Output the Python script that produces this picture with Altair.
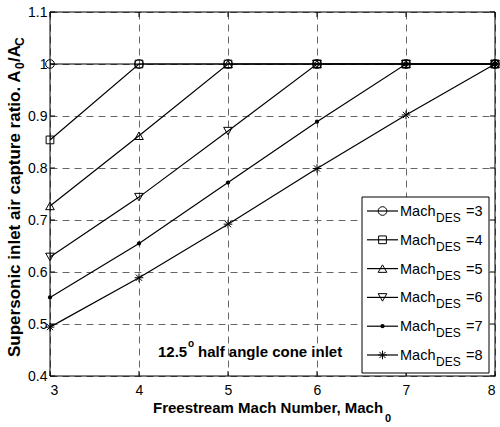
import altair as alt
import pandas as pd

# Freestream Mach numbers (x) and capture ratio A0/AC for each design Mach number
mach0 = [3, 4, 5, 6, 7, 8]
des_labels = ["3", "4", "5", "6", "7", "8"]
ratio_des3 = [1.0, 1.0, 1.0, 1.0, 1.0, 1.0]
ratio_des4 = [0.854, 1.0, 1.0, 1.0, 1.0, 1.0]
ratio_des5 = [0.727, 0.862, 1.0, 1.0, 1.0, 1.0]
ratio_des6 = [0.629, 0.744, 0.871, 1.0, 1.0, 1.0]
ratio_des7 = [0.551, 0.655, 0.772, 0.889, 1.0, 1.0]
ratio_des8 = [0.494, 0.589, 0.692, 0.799, 0.902, 1.0]
series = [ratio_des3, ratio_des4, ratio_des5, ratio_des6, ratio_des7, ratio_des8]

x_ticks = [3, 4, 5, 6, 7, 8]
y_ticks = [0.4, 0.5, 0.6, 0.7, 0.8, 0.9, 1.0, 1.1]

# plot area size in pixels
W, H = 445, 364
FONT = "Liberation Sans"

ASTERISK = "M-1,0L1,0M0,-1L0,1M-0.72,-0.72L0.72,0.72M-0.72,0.72L0.72,-0.72"
marker_style = {
    "3": dict(shape="circle", filled=False, size=75),
    "4": dict(shape="square", filled=False, size=60),
    "5": dict(shape="triangle-up", filled=False, size=75),
    "6": dict(shape="triangle-down", filled=False, size=75),
    "7": dict(shape="circle", filled=True, size=18),
    "8": dict(shape=ASTERISK, filled=False, size=75),
}

rows = []
for des, vals in zip(des_labels, series):
    for m, v in zip(mach0, vals):
        rows.append({"des": des, "mach0": m, "ratio": v})
df = pd.DataFrame(rows)

x_enc = alt.X(
    "mach0:Q",
    scale=alt.Scale(domain=[3, 8], nice=False, zero=False),
    axis=alt.Axis(
        values=x_ticks, title=None, grid=True, gridDash=[7, 5], gridColor="#666",
        gridWidth=1, gridOpacity=1, ticks=False, domain=False, labelFont=FONT,
        labelFontSize=14, labelColor="black", labelPadding=7, format="d",
    ),
)
y_enc = alt.Y(
    "ratio:Q",
    scale=alt.Scale(domain=[0.4, 1.1], nice=False, zero=False),
    axis=alt.Axis(
        values=y_ticks, title=None, grid=True, gridDash=[7, 5], gridColor="#666",
        gridWidth=1, gridOpacity=1, ticks=False, domain=False, labelFont=FONT,
        labelFontSize=14, labelColor="black", labelPadding=3, format=".2~f",
    ),
)

layers = []
for des in des_labels:
    base = alt.Chart(df).transform_filter(alt.datum.des == des)
    layers.append(base.mark_line(color="black", strokeWidth=1.2).encode(x=x_enc, y=y_enc))
for des in des_labels:
    st = marker_style[des]
    base = alt.Chart(df).transform_filter(alt.datum.des == des)
    layers.append(
        base.mark_point(
            shape=st["shape"], filled=st["filled"], size=st["size"],
            color="black", strokeWidth=1, opacity=1,
        ).encode(x=x_enc, y=y_enc)
    )

# inward tick marks on all four sides
xt = alt.Chart(pd.DataFrame({"mach0": x_ticks}))
yt = alt.Chart(pd.DataFrame({"ratio": y_ticks}))
TL = 5
layers += [
    xt.mark_rule(color="black").encode(x=x_enc, y=alt.value(H), y2=alt.value(H - TL)),
    xt.mark_rule(color="black").encode(x=x_enc, y=alt.value(0), y2=alt.value(TL)),
    yt.mark_rule(color="black").encode(y=y_enc, x=alt.value(0), x2=alt.value(TL)),
    yt.mark_rule(color="black").encode(y=y_enc, x=alt.value(W), x2=alt.value(W - TL)),
]

one = pd.DataFrame({"k": [0]})


def label(text, x, y, size, bold=False, angle=0, align="left", baseline="alphabetic"):
    kw = dict(font=FONT, fontSize=size, color="black", align=align, baseline=baseline)
    if bold:
        kw["fontWeight"] = "bold"
    if angle:
        kw["angle"] = angle
    return alt.Chart(one).mark_text(**kw).encode(
        x=alt.value(x), y=alt.value(y), text=alt.value(text)
    )


# axes frame
layers.append(
    alt.Chart(one).mark_rect(fill="transparent", stroke="black", strokeWidth=1).encode(
        x=alt.value(0), x2=alt.value(W), y=alt.value(0), y2=alt.value(H)
    )
)

# axis titles with subscripts
layers += [
    label("Freestream Mach Number, Mach", 103, 401, 15, bold=True),
    label("0", 335, 410, 11, bold=True),
    label("Supersonic inlet air capture ratio. A", -30, 345, 17, bold=True, angle=270),
    label("0", -26, 57, 12, bold=True, angle=270),
    label("/A", -30, 50, 17, bold=True, angle=270),
    label("C", -26, 34, 12, bold=True, angle=270),
]

# annotation
layers += [
    label("12.5", 108, 345, 15, bold=True),
    label("o", 138, 335, 10, bold=True),
    label("half angle cone inlet", 148, 345, 15, bold=True),
]

# legend
LX0, LX1, LY0, LY1 = 312, 439, 185, 361
layers.append(
    alt.Chart(one).mark_rect(fill="white", stroke="black", strokeWidth=1).encode(
        x=alt.value(LX0), x2=alt.value(LX1), y=alt.value(LY0), y2=alt.value(LY1)
    )
)
for i, des in enumerate(des_labels):
    ry = 199 + i * 28.8
    st = marker_style[des]
    layers.append(
        alt.Chart(one).mark_rule(color="black", strokeWidth=1.2).encode(
            x=alt.value(317), x2=alt.value(348), y=alt.value(ry)
        )
    )
    layers.append(
        alt.Chart(one).mark_point(
            shape=st["shape"], filled=st["filled"], size=st["size"],
            color="black", strokeWidth=1, opacity=1,
        ).encode(x=alt.value(332.5), y=alt.value(ry))
    )
    layers += [
        label("Mach", 350, ry + 5, 14.5),
        label("DES", 386, ry + 11, 12),
        label("=" + des, 416, ry + 5, 14.5),
    ]

chart = alt.layer(*layers).properties(
    width=W,
    height=H,
    autosize=alt.AutoSizeParams(type="none"),
    padding={"left": 50, "top": 12, "right": 5, "bottom": 51},
    background="white",
).configure_view(stroke=None)

chart.save("out.html", embed_options={"renderer": "svg", "actions": False})
